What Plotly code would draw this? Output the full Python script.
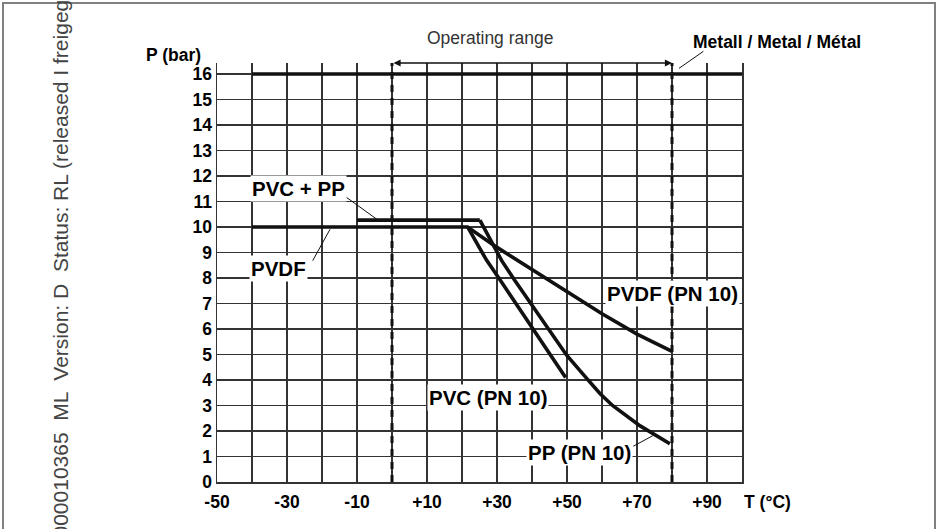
import plotly.graph_objects as go

# ---------------- data ----------------
T_TICKS = list(range(-50, 101, 10))
T_LABELS = ["-50", "", "-30", "", "-10", "", "+10", "", "+30", "", "+50", "", "+70", "", "+90", ""]
P_TICKS = list(range(0, 17))
P_LABELS = [str(v) for v in P_TICKS]

metal_T = [-40, 100]
metal_P = [16, 16]

pvdf_T = [-40, 21.6, 30, 40, 50, 60, 70, 80]
pvdf_P = [10, 10, 9.2, 8.32, 7.48, 6.6, 5.8, 5.12]

pvcpp_T = [-10, 25.1]
pvcpp_P = [10.27, 10.27]

pvc_T = [21.6, 27, 31, 40.4, 49.6]
pvc_P = [10, 8.7, 7.9, 5.95, 4.1]

pp_T = [25.1, 31.3, 35.1, 42, 49.9, 55, 59.4, 63, 66, 70.9, 79.4]
pp_P = [10.27, 8.69, 7.9, 6.53, 4.97, 4.16, 3.47, 3.0, 2.68, 2.2, 1.5]

range_T = [0, 80]          # operating range limits
T_MIN, T_MAX = -50, 100
P_MIN, P_MAX = 0, 16.43

# ---------------- figure ----------------
FONT = "Liberation Sans, Arial, Helvetica, sans-serif"
LINE = "#111111"
GRID = "#333333"

fig = go.Figure()

def thick(x, y):
    fig.add_trace(go.Scatter(x=x, y=y, mode="lines", cliponaxis=False,
                             line=dict(color=LINE, width=3.6), hoverinfo="skip"))

thick(metal_T, metal_P)
thick(pvdf_T, pvdf_P)
thick(pvcpp_T, pvcpp_P)
thick(pvc_T, pvc_P)
thick(pp_T, pp_P)

for t in range_T:
    fig.add_trace(go.Scatter(x=[t, t], y=[P_MIN, P_MAX], mode="lines", cliponaxis=False,
                             line=dict(color=LINE, width=3, dash="7px,6px"), hoverinfo="skip"))

bold = dict(family=FONT, size=17.5, color="#000000", weight="bold")
lab = dict(family=FONT, size=20.5, color="#000000", weight="bold")

def px(x):   # data -> paper (x)
    return (x - T_MIN) / (T_MAX - T_MIN)

def py(y):   # data -> paper (y)
    return (y - P_MIN) / (P_MAX - P_MIN)

annotations = []

def text(x, y, s, font, xanchor="center", yanchor="middle", **kw):
    annotations.append(dict(x=px(x), y=py(y), xref="paper", yref="paper", text=s,
                            showarrow=False, font=font, xanchor=xanchor, yanchor=yanchor, **kw))

def leader(x0, y0, x1, y1, width=1):
    annotations.append(dict(x=x1, y=y1, ax=x0, ay=y0, xref="x", yref="y", axref="x", ayref="y",
                            text="", showarrow=True, arrowhead=0, arrowwidth=width,
                            arrowcolor=LINE, standoff=0, startstandoff=0))

# curve labels (white boxes hide the grid behind them)
text(-26.7, 11.52, "PVC + PP", lab, bgcolor="white", borderpad=1)
text(-32.3, 8.38, "PVDF", lab, bgcolor="white", borderpad=1)
text(27.3, 3.32, "PVC (PN 10)", lab, bgcolor="white", borderpad=1)
text(53.6, 1.165, "PP (PN 10)", lab, bgcolor="white", borderpad=1)
text(80.1, 7.4, "PVDF (PN 10)", lab, bgcolor="white", borderpad=1)

leader(-13.4, 11.2, -4.3, 10.3)
leader(-22.9, 8.62, -17.7, 9.91)
leader(68.5, 1.37, 74.7, 1.83)
leader(89.4, 16.93, 82.0, 16.22)

# header texts
text(110.1, 17.24, "Metall / Metal / Métal", bold)
text(28, 17.4, "Operating range", dict(family=FONT, size=17.5, color="#333333"))
text(T_MIN, 16.73, "P (bar)", bold, xanchor="right", xshift=-14)
annotations.append(dict(x=1, y=0, xref="paper", yref="paper", text="T (°C)", showarrow=False,
                        font=bold, xanchor="left", yanchor="top", xshift=0, yshift=-8))

# operating range double arrow
annotations.append(dict(x=range_T[1], y=P_MAX, ax=range_T[0], ay=P_MAX, xref="x", yref="y",
                        axref="x", ayref="y", text="", showarrow=True, arrowhead=2,
                        arrowside="end+start", arrowsize=1.1, arrowwidth=1.3, arrowcolor=LINE,
                        standoff=0, startstandoff=0))

# vertical document stamp on the left
annotations.append(dict(x=-0.299, y=-0.1384, xref="paper", yref="paper",
                        text="000010365  ML  Version: D  Status: RL (released I freigegeben)",
                        showarrow=False, textangle=-90, xanchor="center", yanchor="bottom",
                        font=dict(family=FONT, size=21, color="#444444")))

fig.update_layout(
    width=942, height=529, autosize=False,
    margin=dict(l=217, r=200, t=63, b=47, pad=0),
    paper_bgcolor="white", plot_bgcolor="white",
    showlegend=False,
    annotations=annotations,
    shapes=[dict(type="rect", xref="paper", yref="paper",
                 x0=-0.4076, x1=1.3676, y0=-0.2, y1=1.1432,
                 line=dict(color="#808080", width=2), fillcolor="rgba(0,0,0,0)", layer="below")],
)

fig.update_xaxes(range=[T_MIN, T_MAX], tickmode="array", tickvals=T_TICKS, ticktext=T_LABELS,
                 showgrid=True, gridcolor=GRID, gridwidth=1.5, zeroline=False,
                 showline=True, linecolor=GRID, linewidth=1.5, ticks="",
                 ticklabelstandoff=3, tickfont=bold, fixedrange=True)
fig.update_yaxes(range=[P_MIN, P_MAX], tickmode="array", tickvals=P_TICKS, ticktext=P_LABELS,
                 showgrid=True, gridcolor=GRID, gridwidth=1.5, zeroline=False,
                 showline=True, mirror=True, linecolor=GRID, linewidth=1.5, ticks="",
                 ticklabelstandoff=0, tickfont=bold, fixedrange=True)

fig.write_html("out.html", config={"displayModeBar": False, "staticPlot": True},
               post_script="document.body.style.margin='0';")
